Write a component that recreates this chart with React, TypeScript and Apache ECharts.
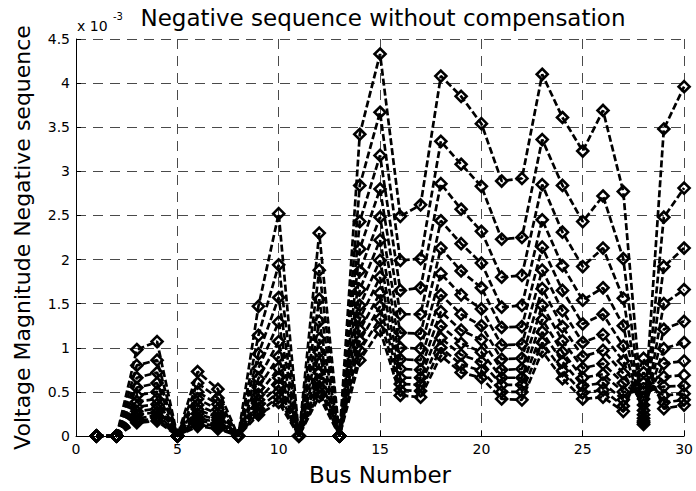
import React, { useEffect, useRef } from "react";
import * as echarts from "echarts";

const buses = [1, 2, 3, 4, 5, 6, 7, 8, 9, 10, 11, 12, 13, 14, 15, 16, 17, 18, 19, 20, 21, 22, 23, 24, 25, 26, 27, 28, 29, 30];

// values in units of 1e-3
const s1 = [0, 0, 0.98, 1.07, 0, 0.73, 0.53, 0, 1.47, 2.52, 0, 2.30, 0, 3.42, 4.33, 2.49, 2.62, 4.08, 3.85, 3.54, 2.89, 2.92, 4.10, 3.61, 3.23, 3.69, 2.77, 0.13, 3.48, 3.96];
const s2 = [0, 0, 0.80, 0.86, 0, 0.60, 0.43, 0, 1.14, 1.94, 0, 1.88, 0, 2.84, 3.67, 1.99, 2.01, 3.34, 3.08, 2.83, 2.23, 2.25, 3.36, 2.84, 2.43, 2.72, 2.01, 0.15, 2.48, 2.81];
const s3 = [0, 0, 0.66, 0.72, 0, 0.50, 0.36, 0, 0.93, 1.57, 0, 1.55, 0, 2.43, 3.18, 1.65, 1.68, 2.86, 2.57, 2.32, 1.80, 1.82, 2.85, 2.31, 1.92, 2.13, 1.56, 0.17, 1.92, 2.13];
const s4 = [0, 0, 0.55, 0.60, 0, 0.42, 0.30, 0, 0.77, 1.29, 0, 1.30, 0, 2.12, 2.80, 1.38, 1.38, 2.44, 2.18, 1.96, 1.46, 1.48, 2.45, 1.93, 1.54, 1.68, 1.25, 0.20, 1.50, 1.66];
const s5 = [0, 0, 0.46, 0.50, 0, 0.35, 0.25, 0, 0.65, 1.07, 0, 1.10, 0, 1.87, 2.48, 1.17, 1.16, 2.13, 1.87, 1.68, 1.23, 1.24, 2.14, 1.65, 1.27, 1.38, 1.02, 0.24, 1.21, 1.30];
const s6 = [0, 0, 0.39, 0.42, 0, 0.30, 0.21, 0, 0.55, 0.90, 0, 0.95, 0, 1.66, 2.22, 1.00, 0.99, 1.84, 1.60, 1.44, 1.03, 1.04, 1.88, 1.42, 1.06, 1.15, 0.85, 0.29, 0.99, 1.06];
const s7 = [0, 0, 0.33, 0.36, 0, 0.25, 0.18, 0, 0.47, 0.77, 0, 0.82, 0, 1.48, 1.99, 0.87, 0.86, 1.60, 1.38, 1.25, 0.87, 0.88, 1.67, 1.24, 0.90, 0.97, 0.71, 0.35, 0.82, 0.85];
const s8 = [0, 0, 0.28, 0.31, 0, 0.21, 0.15, 0, 0.41, 0.66, 0, 0.72, 0, 1.33, 1.80, 0.76, 0.75, 1.41, 1.20, 1.09, 0.75, 0.76, 1.48, 1.08, 0.77, 0.82, 0.60, 0.42, 0.67, 0.69];
const s9 = [0, 0, 0.24, 0.27, 0, 0.18, 0.13, 0, 0.36, 0.57, 0, 0.63, 0, 1.20, 1.62, 0.66, 0.66, 1.25, 1.05, 0.95, 0.66, 0.66, 1.32, 0.95, 0.66, 0.70, 0.50, 0.50, 0.56, 0.57];
const s10 = [0, 0, 0.20, 0.23, 0, 0.15, 0.11, 0, 0.31, 0.50, 0, 0.56, 0, 1.08, 1.47, 0.59, 0.58, 1.11, 0.92, 0.84, 0.58, 0.58, 1.18, 0.84, 0.57, 0.60, 0.41, 0.60, 0.46, 0.48];
const s11 = [0, 0, 0.17, 0.20, 0, 0.13, 0.09, 0, 0.27, 0.44, 0, 0.50, 0, 0.97, 1.33, 0.52, 0.51, 1.00, 0.81, 0.74, 0.50, 0.50, 1.06, 0.74, 0.49, 0.52, 0.34, 0.72, 0.38, 0.41];
const s12 = [0, 0, 0.15, 0.17, 0, 0.11, 0.08, 0, 0.24, 0.38, 0, 0.45, 0, 0.86, 1.20, 0.46, 0.44, 0.91, 0.72, 0.66, 0.42, 0.41, 0.96, 0.65, 0.42, 0.44, 0.28, 0.88, 0.31, 0.35];

const seriesValues = [s1, s2, s3, s4, s5, s6, s7, s8, s9, s10, s11, s12];

const xTicks = { min: 0, max: 30, interval: 5 };
const yTicks = { min: 0, max: 4.5, interval: 0.5 };

const titleText = "Negative sequence without compensation";
const xName = "Bus Number";
const yName = "Voltage Magnitude Negative sequence";

const FONT = "DejaVu Sans";

export default function App() {
  const ref = useRef<HTMLDivElement>(null);

  useEffect(() => {
    if (!ref.current) return;
    const chart = echarts.init(ref.current, undefined, { renderer: "svg" });

    const gridDash = {
      show: true,
      lineStyle: { color: "#4a4a4a", width: 1, type: [10, 7] as any },
    };

    const option: any = {
      animation: false,
      backgroundColor: "#fff",
      grid: { left: 76, right: 6, top: 39, bottom: 52, containLabel: false },
      graphic: [
        {
          type: "text",
          x: 383,
          y: 18,
          style: {
            text: titleText,
            font: `23px '${FONT}'`,
            fill: "#000",
            textAlign: "center",
            textVerticalAlign: "middle",
          },
        },
        {
          type: "text",
          x: 77,
          y: 26,
          style: {
            text: "x 10",
            font: `14px '${FONT}'`,
            fill: "#000",
            textAlign: "left",
            textVerticalAlign: "middle",
          },
        },
        {
          type: "text",
          x: 113,
          y: 16,
          style: {
            text: "-3",
            font: `10px '${FONT}'`,
            fill: "#000",
            textAlign: "left",
            textVerticalAlign: "middle",
          },
        },
      ],
      xAxis: {
        type: "value",
        min: xTicks.min,
        max: xTicks.max,
        interval: xTicks.interval,
        name: xName,
        nameLocation: "middle",
        nameGap: 27,
        nameTextStyle: { fontFamily: FONT, fontSize: 23, color: "#000" },
        axisLine: { show: true, onZero: false, lineStyle: { color: "#000", width: 1 } },
        axisTick: { show: true, inside: true, length: 5, lineStyle: { color: "#000" } },
        axisLabel: { fontFamily: FONT, fontSize: 14, color: "#000", margin: 6 },
        splitLine: gridDash,
      },
      yAxis: {
        type: "value",
        min: yTicks.min,
        max: yTicks.max,
        interval: yTicks.interval,
        name: yName,
        nameLocation: "middle",
        nameGap: 43,
        nameTextStyle: { fontFamily: FONT, fontSize: 22, color: "#000" },
        axisLine: { show: true, lineStyle: { color: "#000", width: 1 } },
        axisTick: { show: true, inside: true, length: 5, lineStyle: { color: "#000" } },
        axisLabel: { fontFamily: FONT, fontSize: 14, color: "#000", margin: 6 },
        splitLine: gridDash,
      },
      series: seriesValues.map((vals, i) => ({
        type: "line",
        name: "S" + (i + 1),
        data: buses.map((b, j) => [b, vals[j]]),
        symbol: "diamond",
        symbolSize: 11,
        showSymbol: true,
        clip: false,
        lineStyle: { color: "#000", width: 2.7, type: [7, 3] },
        itemStyle: { color: "rgba(255,255,255,0)", borderColor: "#000", borderWidth: 2.6 },
        emphasis: { disabled: true },
        z: 2,
      })),
    };

    chart.setOption(option);
    return () => chart.dispose();
  }, []);

  return (
    <div
      ref={ref}
      style={{ position: "fixed", left: 0, top: 0, width: 696, height: 491, background: "#fff" }}
    />
  );
}
